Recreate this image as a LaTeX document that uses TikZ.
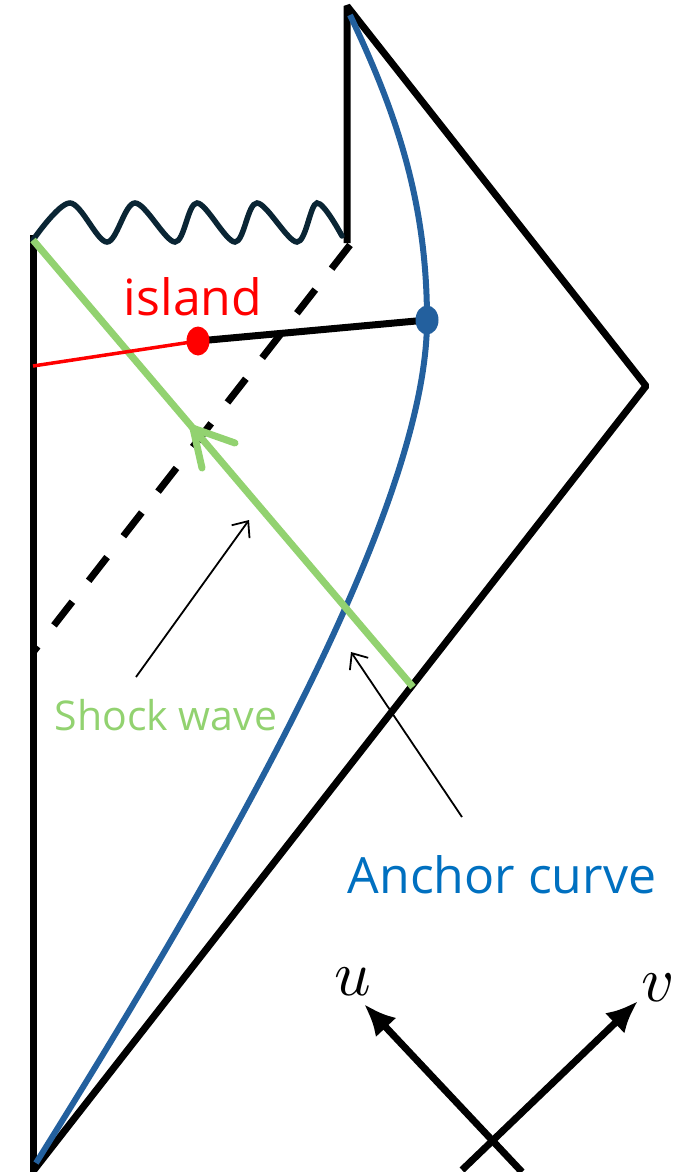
\documentclass[tikz,border=0pt]{standalone}
\usepackage{graphicx}
\usepackage{fontspec}
\setmainfont{Open Sans}
\usetikzlibrary{arrows.meta,shapes.geometric,calc}
\definecolor{anchorblue}{RGB}{35,96,158}
\definecolor{labelblue}{RGB}{0,112,192}
\definecolor{shockgreen}{RGB}{146,210,112}
\definecolor{wavenavy}{RGB}{10,37,52}
\begin{document}
\begin{tikzpicture}[x=1pt,y=-1pt,
  edge/.style={line width=7pt,black},
  wave/.style={line width=5.5pt,wavenavy,line cap=round},
  anchorline/.style={line width=6pt,anchorblue},
  shock/.style={line width=7pt,shockgreen},
  pointer/.style={line width=1.8pt,black,-{Straight Barb[length=13pt,width=22pt,line width=1.8pt]}},
  axis/.style={line width=7pt,black,-{Latex[length=32pt,width=28pt]}},
  dot/.style={ellipse,inner sep=0pt,minimum width=23pt,minimum height=29pt},
  lbl/.style={inner sep=0pt,anchor=base}]
\useasboundingbox (0,0) rectangle (694,1172);
% corners
\coordinate (LT) at (33,235);
\coordinate (LB) at (33,1172);
\coordinate (TT) at (347,6);
\coordinate (TB) at (347,243);
\coordinate (RC) at (646,386);
\coordinate (BC) at (34,1170);
\coordinate (DS) at (350,245);
\coordinate (DE) at (34,651);
\coordinate (GS) at (33,240);
\coordinate (GE) at (413,687);
\coordinate (RE) at (33,366);
\coordinate (AT) at (350,15);
\coordinate (AM) at (427,320);
\coordinate (AB) at (36,1163);
% boundary
\draw[edge] (LT) -- (LB);
\draw[edge,line join=bevel] (TB) -- (TT) -- (RC) -- (BC);
% singularity
\draw[wave] plot[smooth,tension=0.55] coordinates {(33,240) (70,203) (107,242) (135,203) (175,242) (197,203) (235,242) (257,203) (297,242) (317,203) (342,236)};
% horizon (dashed)
\draw[edge,dash pattern=on 30pt off 26.5pt] (DS) -- (DE);
% anchor curve
\draw[anchorline] (AT) .. controls (395,110) and (427,200) .. (AM)
  .. controls (427,520) and (200,900) .. (AB);
% shock wave
\draw[shock] (GS) -- (GE);
\coordinate (CH) at ($(GS)!0.421!(GE)$);
\coordinate (CH1) at (235,443);
\coordinate (CH2) at (202,468);
\draw[shock,line cap=round] (CH1) -- (CH) -- (CH2);
% dots and segment
\node[dot] (bd) at (AM) {};
\node[dot] (rd) at (198,341) {};
\draw[line width=7pt,black] (rd.center) -- (bd.center);
\draw[line width=3.5pt,red] (RE) -- (rd.center);
\node[dot,fill=anchorblue] at (bd) {};
\node[dot,fill=red] at (rd) {};
% labels
\node[lbl,text=red,font=\fontsize{50}{60}\selectfont] (island) at (193,315) {island};
\node[lbl,text=shockgreen,font=\fontsize{41}{50}\selectfont] (shocklbl) at (166,730) {Shock wave};
\node[lbl,text=labelblue,font=\fontsize{50}{60}\selectfont] (anchorlbl) at (502,893) {Anchor curve};
\coordinate (P1s) at (136,677);
\coordinate (P1e) at (249,520);
\coordinate (P2s) at (462,817);
\coordinate (P2e) at (351,652);
\draw[pointer] (P1s) -- (P1e);
\draw[pointer] (P2s) -- (P2e);
% u v axes
\coordinate (Us) at (522,1172);
\coordinate (Ue) at (364,1004);
\coordinate (Vs) at (462,1170);
\coordinate (Ve) at (638,1001);
\draw[axis] (Us) -- (Ue);
\draw[axis] (Vs) -- (Ve);
\node[lbl] (ulbl) at (353,995) {\scalebox{6.4}{$u$}};
\node[lbl] (vlbl) at (658,1001) {\scalebox{6.4}{$v$}};
\end{tikzpicture}
\end{document}
